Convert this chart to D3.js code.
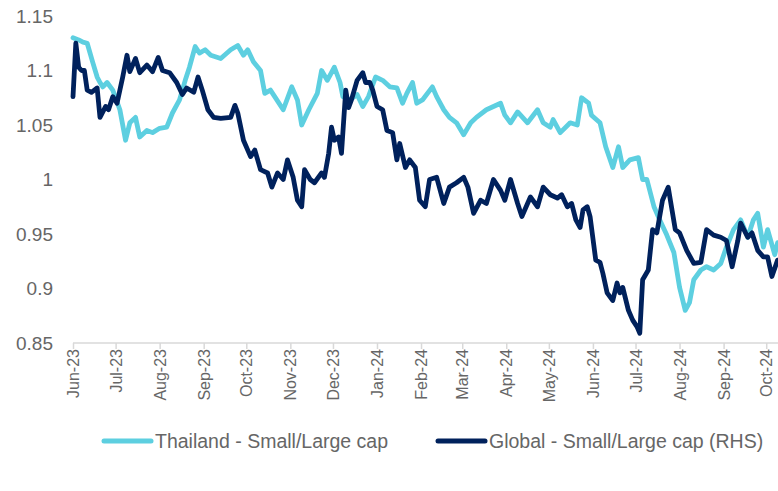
<!doctype html>
<meta charset="utf-8">
<title>Thailand vs Global small/large cap</title>
<script src="https://cdn.jsdelivr.net/npm/d3@7"></script>
<style>
  body { margin: 0; background: #fff; }
  text { font-family: "Liberation Sans", Arial, sans-serif; fill: #666; }
</style>
<body>
<div id="chart"></div>
<script>

// Thailand - Small/Large cap
var thaiDates = ["2023-06-01","2023-06-05","2023-06-08","2023-06-11","2023-06-15","2023-06-18","2023-06-20","2023-06-22","2023-06-25","2023-06-29",
  "2023-07-04","2023-07-08","2023-07-11","2023-07-15","2023-07-18","2023-07-23","2023-07-27","2023-08-01","2023-08-06","2023-08-10",
  "2023-08-15","2023-08-19","2023-08-22","2023-08-26","2023-08-29","2023-09-02","2023-09-06","2023-09-13","2023-09-20","2023-09-25",
  "2023-09-29","2023-10-02","2023-10-06","2023-10-11","2023-10-14","2023-10-18","2023-10-21","2023-10-27","2023-11-02","2023-11-06",
  "2023-11-09","2023-11-14","2023-11-20","2023-11-23","2023-11-27","2023-12-02","2023-12-06","2023-12-08","2023-12-13","2023-12-18",
  "2023-12-22","2023-12-26","2023-12-31","2024-01-05","2024-01-10","2024-01-15","2024-01-19","2024-01-22","2024-01-26","2024-01-29",
  "2024-02-02","2024-02-09","2024-02-12","2024-02-17","2024-02-21","2024-02-26","2024-03-02","2024-03-07","2024-03-11","2024-03-18",
  "2024-03-23","2024-03-28","2024-03-31","2024-04-04","2024-04-09","2024-04-16","2024-04-23","2024-04-27","2024-05-02","2024-05-04",
  "2024-05-09","2024-05-16","2024-05-21","2024-05-24","2024-05-29","2024-05-31","2024-06-06","2024-06-10","2024-06-15","2024-06-19",
  "2024-06-22","2024-06-27","2024-07-03","2024-07-06","2024-07-09","2024-07-14","2024-07-18","2024-07-23","2024-07-28","2024-08-01",
  "2024-08-05","2024-08-08","2024-08-11","2024-08-16","2024-08-20","2024-08-25","2024-08-30","2024-09-03","2024-09-08","2024-09-13",
  "2024-09-18","2024-09-22","2024-09-25","2024-09-29","2024-10-02","2024-10-07","2024-10-09"];
var thaiValues = [1.130,1.128,1.126,1.125,1.107,1.094,1.089,1.085,1.089,1.082,
  1.064,1.036,1.052,1.057,1.039,1.045,1.043,1.047,1.048,1.061,
  1.073,1.091,1.103,1.122,1.116,1.119,1.114,1.111,1.119,1.123,
  1.114,1.119,1.108,1.100,1.079,1.082,1.076,1.064,1.085,1.073,
  1.050,1.064,1.079,1.100,1.091,1.103,1.089,1.076,1.073,1.078,
  1.067,1.076,1.094,1.091,1.085,1.084,1.070,1.079,1.089,1.070,
  1.073,1.085,1.076,1.064,1.057,1.052,1.041,1.052,1.057,1.064,
  1.067,1.070,1.059,1.052,1.062,1.052,1.064,1.052,1.048,1.055,
  1.043,1.052,1.050,1.075,1.070,1.059,1.052,1.030,1.011,1.030,
  1.011,1.018,1.020,1.000,1.000,0.975,0.963,0.949,0.933,0.901,
  0.880,0.887,0.908,0.917,0.920,0.917,0.923,0.938,0.954,0.963,
  0.947,0.963,0.969,0.938,0.954,0.931,0.942];

// Global - Small/Large cap (RHS)
var globalDates = ["2023-06-01","2023-06-03","2023-06-05","2023-06-07","2023-06-09","2023-06-11","2023-06-14","2023-06-18","2023-06-20","2023-06-24",
  "2023-06-26","2023-06-29","2023-07-02","2023-07-06","2023-07-09","2023-07-11","2023-07-15","2023-07-18","2023-07-23","2023-07-27",
  "2023-07-31","2023-08-03","2023-08-08","2023-08-13","2023-08-17","2023-08-20","2023-08-25","2023-08-28","2023-08-31","2023-09-04",
  "2023-09-08","2023-09-13","2023-09-20","2023-09-23","2023-09-25","2023-09-29","2023-10-04","2023-10-07","2023-10-11","2023-10-16",
  "2023-10-19","2023-10-23","2023-10-27","2023-10-30","2023-11-03","2023-11-06","2023-11-09","2023-11-11","2023-11-15","2023-11-18",
  "2023-11-23","2023-11-25","2023-11-28","2023-11-30","2023-12-02","2023-12-05","2023-12-07","2023-12-10","2023-12-12","2023-12-14",
  "2023-12-18","2023-12-22","2023-12-24","2023-12-27","2023-12-29","2024-01-01","2024-01-05","2024-01-08","2024-01-12","2024-01-15",
  "2024-01-17","2024-01-21","2024-01-24","2024-01-28","2024-01-31","2024-02-04","2024-02-07","2024-02-12","2024-02-17","2024-02-21",
  "2024-02-26","2024-03-02","2024-03-05","2024-03-09","2024-03-14","2024-03-18","2024-03-23","2024-03-28","2024-03-31","2024-04-04",
  "2024-04-09","2024-04-12","2024-04-18","2024-04-23","2024-04-27","2024-05-02","2024-05-07","2024-05-10","2024-05-14","2024-05-17",
  "2024-05-20","2024-05-23","2024-05-25","2024-05-28","2024-05-30","2024-06-03","2024-06-06","2024-06-08","2024-06-11","2024-06-15",
  "2024-06-18","2024-06-20","2024-06-22","2024-06-26","2024-06-29","2024-07-02","2024-07-04","2024-07-06","2024-07-10","2024-07-13",
  "2024-07-16","2024-07-20","2024-07-24","2024-07-29","2024-08-01","2024-08-06","2024-08-11","2024-08-16","2024-08-20","2024-08-25",
  "2024-08-30","2024-09-03","2024-09-07","2024-09-11","2024-09-13","2024-09-18","2024-09-21","2024-09-25","2024-09-29","2024-10-02",
  "2024-10-05","2024-10-09"];
var globalValues = [1.076,1.125,1.103,1.100,1.100,1.082,1.080,1.084,1.057,1.067,
  1.064,1.076,1.070,1.094,1.114,1.099,1.111,1.098,1.105,1.099,
  1.112,1.100,1.098,1.089,1.078,1.084,1.080,1.094,1.082,1.064,
  1.057,1.056,1.057,1.068,1.061,1.036,1.021,1.027,1.009,1.006,
  0.993,1.006,1.000,1.018,1.002,0.981,0.975,1.009,1.000,0.997,
  1.006,1.002,1.024,1.048,1.036,1.039,1.024,1.082,1.066,1.073,
  1.091,1.098,1.089,1.089,1.082,1.067,1.064,1.045,1.043,1.018,
  1.033,1.011,1.018,1.011,0.981,0.975,1.000,1.002,0.978,0.993,
  0.997,1.002,0.993,0.969,0.981,0.978,1.000,0.990,0.981,1.000,
  0.978,0.966,0.984,0.975,0.993,0.986,0.983,0.986,0.975,0.978,
  0.963,0.956,0.972,0.975,0.966,0.926,0.924,0.914,0.896,0.889,
  0.905,0.896,0.901,0.880,0.871,0.865,0.859,0.908,0.917,0.954,
  0.951,0.981,0.993,0.954,0.951,0.935,0.923,0.924,0.954,0.949,
  0.947,0.944,0.920,0.944,0.960,0.947,0.951,0.935,0.929,0.929,
  0.911,0.926];

var monthTicks = ["2023-06-01","2023-07-01","2023-08-01","2023-09-01","2023-10-01","2023-11-01","2023-12-01",
  "2024-01-01","2024-02-01","2024-03-01","2024-04-01","2024-05-01","2024-06-01","2024-07-01","2024-08-01",
  "2024-09-01","2024-10-01"];
var yTicks = [0.85, 0.9, 0.95, 1, 1.05, 1.1, 1.15];
var seriesNames = ["Thailand - Small/Large cap", "Global - Small/Large cap (RHS)"];
var seriesColors = ["#5dcfe0", "#00215c"];

var width = 778, height = 491;
var parse = d3.timeParse("%Y-%m-%d");
var fmt = d3.timeFormat("%b-%y");

var x = d3.scaleTime()
  .domain([parse("2023-06-01"), parse("2024-10-10")])
  .range([73, 779]);
var y = d3.scaleLinear().domain([0.85, 1.15]).range([343, 16]);

var svg = d3.select("#chart").append("svg")
  .attr("width", width)
  .attr("height", height);

// y labels (no axis line)
svg.append("g").selectAll("text")
  .data(yTicks)
  .enter().append("text")
  .attr("x", 53)
  .attr("y", function(d) { return y(d); })
  .attr("dy", "0.35em")
  .attr("text-anchor", "end")
  .style("font-size", "19px")
  .text(function(d) { return d3.format("")(+d.toFixed(2)); });

// x axis
var xAxis = d3.axisBottom(x)
  .tickValues(monthTicks.map(parse))
  .tickFormat(fmt)
  .tickSizeOuter(0)
  .tickSize(6)
  .tickPadding(6);

var gx = svg.append("g")
  .attr("transform", "translate(0," + y(0.85) + ")")
  .call(xAxis);
gx.select(".domain").attr("stroke", "#d9d9d9").attr("stroke-width", 1.5)
  .attr("d", "M73,0H779");
gx.selectAll(".tick line").attr("stroke", "#d9d9d9").attr("stroke-width", 1.5);
gx.selectAll(".tick text")
  .attr("transform", "rotate(-90)")
  .attr("text-anchor", "end")
  .attr("x", -6)
  .attr("y", 0)
  .attr("dy", "0.35em")
  .style("font-size", "16px")
  .style("font-family", "'Liberation Sans', Arial, sans-serif")
  .attr("fill", "#666");

var line = d3.line()
  .x(function(d) { return x(d.date); })
  .y(function(d) { return y(d.value); })
  .curve(d3.curveLinear);

function series(dates, values) {
  return dates.map(function(d, i) { return { date: parse(d), value: values[i] }; });
}

var allSeries = [series(thaiDates, thaiValues), series(globalDates, globalValues)];

svg.append("defs").append("clipPath").attr("id", "plot")
  .append("rect").attr("x", 0).attr("y", 0).attr("width", 778).attr("height", 345);

svg.append("g").attr("clip-path", "url(#plot)")
  .selectAll("path")
  .data(allSeries)
  .enter().append("path")
  .attr("d", line)
  .attr("fill", "none")
  .attr("stroke", function(d, i) { return seriesColors[i]; })
  .attr("stroke-width", 4.8)
  .attr("stroke-linejoin", "round")
  .attr("stroke-linecap", "round");

// legend
var legendX = [104, 438];
var lg = svg.append("g").selectAll("g")
  .data(seriesNames)
  .enter().append("g")
  .attr("transform", function(d, i) { return "translate(" + legendX[i] + ",441)"; });
lg.append("line")
  .attr("x1", 0).attr("x2", 47)
  .attr("stroke", function(d, i) { return seriesColors[i]; })
  .attr("stroke-width", 5)
  .attr("stroke-linecap", "round");
lg.append("text")
  .attr("x", 51)
  .attr("dy", "0.35em")
  .style("font-size", "19.5px")
  .text(function(d) { return d; });

</script>
</body>
